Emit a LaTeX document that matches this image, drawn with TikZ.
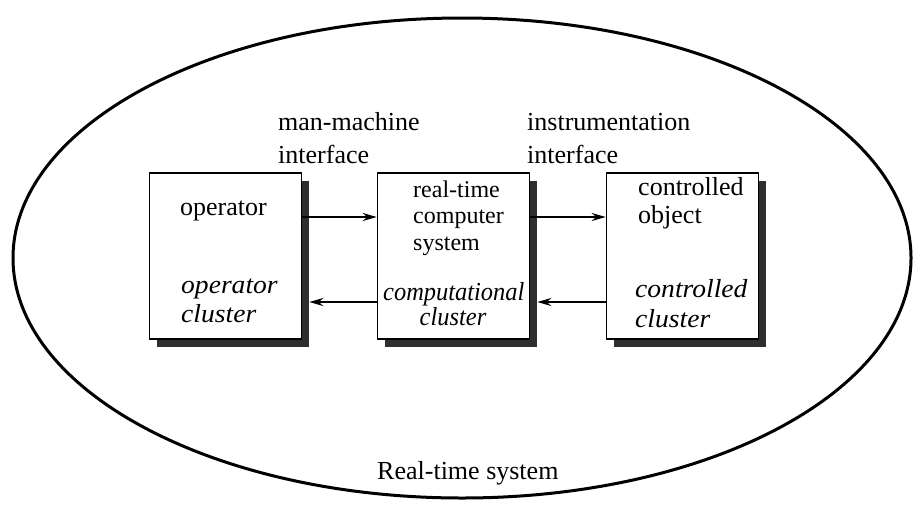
\documentclass[tikz,border=0pt]{standalone}
\usepackage{fontspec}
\setmainfont{Liberation Serif}
\usetikzlibrary{arrows.meta,shadows}
\tikzset{
  cluster/.style={draw=black, line width=1.6pt, fill=white,
    minimum width=152pt, minimum height=166pt, inner sep=0pt,
    drop shadow={shadow xshift=7pt, shadow yshift=-8pt, fill=black!82, opacity=1}},
  lbl/.style={anchor=base west, inner sep=0pt,
    font=\fontsize{26}{30}\selectfont},
  smalllbl/.style={lbl, font=\fontsize{24}{28}\selectfont},
  itbase/.style={lbl, font=\fontsize{26}{30}\selectfont\itshape},
  itlbl/.style={itbase, xscale=1.06},
  itnarrow/.style={itbase, xscale=0.94},
  flow/.style={line width=2pt, -{Stealth[length=14pt,width=8pt]}}
}
\begin{document}
\begin{tikzpicture}[x=1pt,y=-1pt]
\useasboundingbox (0,0) rectangle (917,507);
% enclosing real-time system
\draw[line width=3pt] (462,258) ellipse [x radius=449pt, y radius=240pt];
\node[lbl] (rts) at (377,479) {Real-time system};

% the three clusters
\node[cluster] (op)  at (225.5,256) {};
\node[cluster] (rt)  at (453.5,256) {};
\node[cluster] (obj) at (682.5,256) {};

% interface labels
\node[lbl] (mm1) at (278,130) {man-machine};
\node[lbl] (mm2) at (278,163) {interface};
\node[lbl] (in1) at (527,130) {instrumentation};
\node[lbl] (in2) at (527,163) {interface};

% operator cluster
\node[lbl] (opname) at (180,215) {operator};
\node[itlbl] (opc1) at (181,293) {operator};
\node[itlbl] (opc2) at (181,322) {cluster};

% computational cluster
\node[smalllbl] (rt1) at (413,197) {real-time};
\node[smalllbl] (rt2) at (413,223) {computer};
\node[smalllbl] (rt3) at (413,250) {system};
\node[itnarrow] (cc1) at (383,300) {computational};
\node[itnarrow, anchor=base] (cc2) at (453,325) {cluster};

% controlled cluster
\node[lbl] (ob1) at (638,195) {controlled};
\node[lbl] (ob2) at (638,223) {object};
\node[itlbl] (ctc1) at (635,297) {controlled};
\node[itlbl] (ctc2) at (635,327) {cluster};

% interfaces between clusters
\draw[flow] ([yshift=39pt]op.east) -- ([yshift=39pt]rt.west);
\draw[flow] ([yshift=-46pt]rt.west) -- ([xshift=7pt,yshift=-46pt]op.east);
\draw[flow] ([yshift=39pt]rt.east) -- ([yshift=39pt]obj.west);
\draw[flow] ([yshift=-46pt]obj.west) -- ([xshift=7pt,yshift=-46pt]rt.east);
\end{tikzpicture}
\end{document}
